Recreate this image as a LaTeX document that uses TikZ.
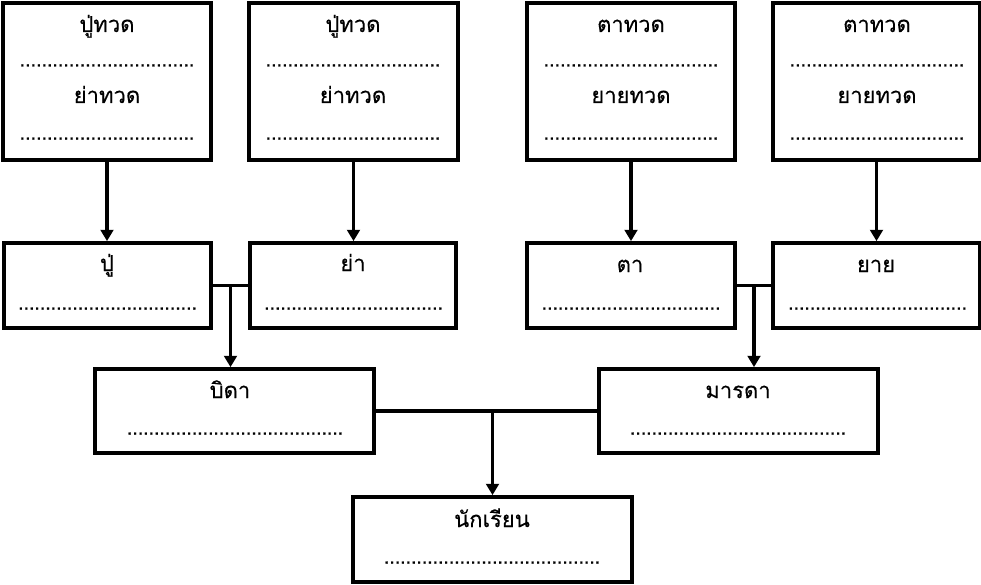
\documentclass[tikz,border=0pt]{standalone}
\usepackage{fontspec}
\newfontfamily\thaifont[Script=Thai,FakeBold=0.3]{Loma}
\usetikzlibrary{arrows.meta,calc}
\newcommand\dotrow[1]{\hbox to #1{\xleaders\hbox to 4.05pt{\hss.\hss}\hfill}}
\begin{document}
\begin{tikzpicture}[x=0.75pt,y=-0.75pt,
  box/.style={draw,line width=2.8pt,rectangle,inner sep=0pt},
  lbl/.style={anchor=base,inner sep=0pt,font=\thaifont\fontsize{16.5}{18}\selectfont},
  dts/.style={anchor=base,inner sep=0pt,font=\thaifont\fontsize{15}{18}\selectfont},
  conn/.style={line width=2.8pt},
  arr/.style={line width=2.8pt,-{Triangle[width=9.5pt,length=8.5pt]}}]
\useasboundingbox (0,0) rectangle (981,585);
% top row
\node[box,minimum width=208*0.75pt,minimum height=157*0.75pt] (b1) at (107,81.5) {};
\node[box,minimum width=209*0.75pt,minimum height=157*0.75pt] (b2) at (353.5,81.5) {};
\node[box,minimum width=208*0.75pt,minimum height=157*0.75pt] (b3) at (631,81.5) {};
\node[box,minimum width=207*0.75pt,minimum height=157*0.75pt] (b4) at (876.5,81.5) {};
% row 2
\node[box,minimum width=207*0.75pt,minimum height=85*0.75pt] (p1) at (107.5,285.5) {};
\node[box,minimum width=206*0.75pt,minimum height=85*0.75pt] (p2) at (353,285.5) {};
\node[box,minimum width=208*0.75pt,minimum height=85*0.75pt] (p3) at (631,285.5) {};
\node[box,minimum width=207*0.75pt,minimum height=85*0.75pt] (p4) at (876.5,285.5) {};
% row 3
\node[box,minimum width=279*0.75pt,minimum height=84*0.75pt] (f) at (234.5,411) {};
\node[box,minimum width=279*0.75pt,minimum height=84*0.75pt] (m) at (738.5,411) {};
% row 4
\node[box,minimum width=279*0.75pt,minimum height=85*0.75pt] (s) at (492.5,539.5) {};
% labels top row
\foreach \n/\x/\a/\b in {t1/107/ปู่ทวด/ย่าทวด, t2/353/ปู่ทวด/ย่าทวด, t3/631/ตาทวด/ยายทวด, t4/877/ตาทวด/ยายทวด}{
  \node[lbl] (\n a) at (\x,32) {\a};
  \node[dts] (\n d) at (\x,66.5) {\dotrow{131pt}};
  \node[lbl] (\n b) at (\x,103) {\b};
  \node[dts] (\n e) at (\x,139.5) {\dotrow{131pt}};
}
% labels row 2
\node[lbl] (l1) at (107,271) {ปู่};
\node[lbl] (l2) at (353,271) {ย่า};
\node[lbl] (l3) at (630,272) {ตา};
\node[lbl] (l4) at (876,272) {ยาย};
\foreach \n/\x in {d1/107.5,d2/353.5,d3/631,d4/877.5}{
  \node[dts] (\n) at (\x,309.5) {\dotrow{134pt}};
}
% row 3 labels
\node[lbl] (lf) at (230,398) {บิดา};
\node[lbl] (lm) at (738,398) {มารดา};
\node[dts] (df) at (235,434.5) {\dotrow{162pt}};
\node[dts] (dm) at (738,434.5) {\dotrow{162pt}};
% student
\node[lbl] (ls) at (492,527) {นักเรียน};
\node[dts] (ds) at (492,563.5) {\dotrow{162pt}};
% connectors
\foreach \i in {1,2,3,4}{
  \draw[arr] (b\i.south) -- (b\i.south |- p\i.north);
}
\draw[conn] (p1.east) -- (p2.west);
\coordinate (j1) at ($(p1.east)!0.5!(p2.west)$);
\draw[arr] (j1) -- (j1 |- f.north);
\draw[conn] (p3.east) -- (p4.west);
\coordinate (j2) at ($(p3.east)!0.5!(p4.west)$);
\draw[arr] (j2) -- (j2 |- m.north);
\draw[conn] (f.east) -- (m.west);
\coordinate (j3) at (s.north |- f.east);
\draw[arr] (j3) -- (s.north);
\end{tikzpicture}
\end{document}
